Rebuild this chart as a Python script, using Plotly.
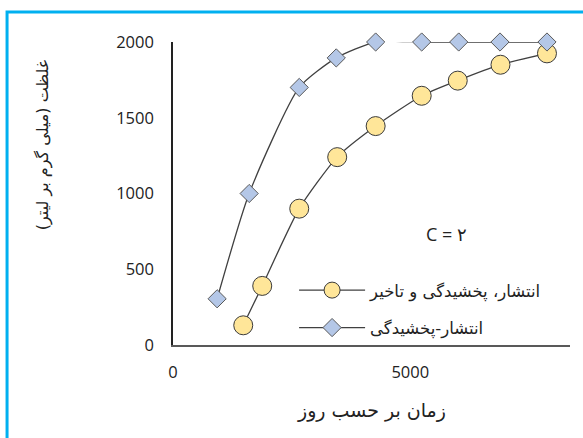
import plotly.graph_objects as go

# Data (time in days, concentration in mg/L)
x_delay = [1480, 1880, 2660, 3460, 4270, 5240, 6000, 6900, 7880]
y_delay = [130, 390, 900, 1240, 1445, 1645, 1745, 1850, 1925]

x_disp = [930, 1605, 2660, 3440, 4270, 5240, 6020, 6890, 7880]
y_disp = [305, 1000, 1700, 1895, 2000, 2000, 2000, 2000, 2000]

name_delay = "انتشار، پخشیدگی و تاخیر"
name_disp = "انتشار-پخشیدگی"
x_title = "زمان بر حسب روز"
y_title = "غلظت (میلی گرم بر لیتر)"
note = "C = ۲"

x_ticks = [0, 5000]
y_ticks = [0, 500, 1000, 1500, 2000]

fa_font = "DejaVu Sans"
num_font = "Open Sans"

fig = go.Figure()
fig.add_trace(go.Scatter(
    x=x_delay, y=y_delay, name=name_delay, mode="lines+markers",
    legendgroup="a", cliponaxis=False,
    line=dict(color="#404040", width=1.3, shape="spline", smoothing=0.6),
    marker=dict(symbol="circle", size=19, color="#FFE699",
                line=dict(color="#3a3a3a", width=1)),
))
fig.add_trace(go.Scatter(
    x=x_disp, y=y_disp, name=name_disp, mode="lines+markers",
    legendgroup="b", cliponaxis=False,
    line=dict(color="#404040", width=1.3, shape="spline", smoothing=0.6),
    marker=dict(symbol="diamond", size=14, color="#B4C7E7",
                line=dict(color="#595959", width=1)),
))

fig.update_layout(
    width=583, height=438,
    margin=dict(l=173, r=13, t=42, b=93),
    paper_bgcolor="white", plot_bgcolor="white",
    showlegend=True,
    legend=dict(x=0.305, y=0.238, xanchor="left", yanchor="top",
                bgcolor="rgba(0,0,0,0)",
                font=dict(family=fa_font, size=16.5, color="#222"),
                tracegroupgap=13, itemwidth=66),
    annotations=[
        dict(text=note, x=0.745, y=0.365, xref="paper", yref="paper",
             showarrow=False, font=dict(family=num_font, size=18, color="#222")),
        dict(text=x_title, x=0.5, y=-0.215, xref="paper", yref="paper",
             xanchor="center", yanchor="middle",
             showarrow=False, font=dict(family=fa_font, size=19, color="#222")),
        dict(text=y_title, x=-0.327, y=0.66, xref="paper", yref="paper",
             xanchor="center", yanchor="middle", textangle=-90,
             showarrow=False, font=dict(family=fa_font, size=16, color="#222")),
    ],
    shapes=[dict(type="rect", xref="paper", yref="paper",
                 x0=-0.418, x1=2, y0=-2, y1=1.099,
                 line=dict(color="#00B0F0", width=3), layer="below")],
)

fig.update_xaxes(
    range=[0, 8365], tickvals=x_ticks, ticktext=[str(v) for v in x_ticks],
    showgrid=False, zeroline=False, showline=True, linecolor="#595959", linewidth=1.5,
    ticks="outside", ticklen=11, tickcolor="rgba(0,0,0,0)",
    tickfont=dict(family=num_font, size=16.5, color="#222"),
)
fig.update_yaxes(
    range=[0, 2000], tickvals=y_ticks, ticktext=[str(v) for v in y_ticks],
    showgrid=False, zeroline=False, showline=True, linecolor="#222", linewidth=1.5,
    ticks="outside", ticklen=14, tickcolor="rgba(0,0,0,0)",
    tickfont=dict(family=num_font, size=16.5, color="#222"),
)

fig.write_html("out.html")
